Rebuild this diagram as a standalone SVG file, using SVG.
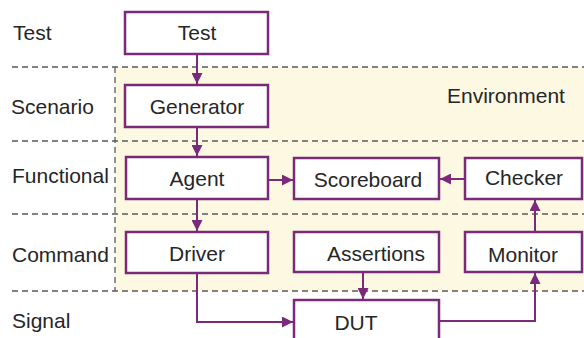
<svg xmlns="http://www.w3.org/2000/svg" width="584" height="338" viewBox="0 0 584 338">
<style>
.box{fill:#fff;stroke:#7a2a78;stroke-width:2.5}
.lbl{font-family:"Liberation Sans",Arial,sans-serif;font-size:21px;fill:#262626}
.ctr{text-anchor:middle}
.dash{stroke:#5a5a5a;stroke-width:1.3;stroke-dasharray:6 4;fill:none}
.con{stroke:#7a2a78;stroke-width:2;fill:none}
</style>
<defs>
<marker id="ah" viewBox="0 0 10 10" refX="10" refY="5" markerWidth="5.5" markerHeight="5.5" orient="auto" markerUnits="strokeWidth">
<path d="M0,0 L10,5 L0,10 z" fill="#7a2a78"/>
</marker>
</defs>
<rect x="0" y="0" width="584" height="338" fill="#fff"/>
<rect x="115" y="67" width="469" height="224" fill="#fcf8e1"/>
<g id="lanes">
<line class="dash" x1="12" y1="67" x2="584" y2="67"/>
<line class="dash" x1="12" y1="141" x2="584" y2="141"/>
<line class="dash" x1="12" y1="214" x2="584" y2="214"/>
<line class="dash" x1="12" y1="291" x2="584" y2="291"/>
<line class="dash" x1="115" y1="67" x2="115" y2="291"/>
<text class="lbl" x="13" y="40">Test</text>
<text class="lbl" x="11" y="114">Scenario</text>
<text class="lbl" x="12" y="183">Functional</text>
<text class="lbl" x="12" y="262">Command</text>
<text class="lbl" x="12" y="328">Signal</text>
<text class="lbl" x="447" y="103">Environment</text>
</g>
<g id="connectors">
<line class="con" x1="197" y1="54" x2="197" y2="84" marker-end="url(#ah)"/>
<line class="con" x1="197" y1="127" x2="197" y2="156" marker-end="url(#ah)"/>
<line class="con" x1="197" y1="199" x2="197" y2="231" marker-end="url(#ah)"/>
<line class="con" x1="268" y1="180" x2="293" y2="180" marker-end="url(#ah)"/>
<line class="con" x1="465" y1="179" x2="440" y2="179" marker-end="url(#ah)"/>
<line class="con" x1="535" y1="232" x2="535" y2="200" marker-end="url(#ah)"/>
<line class="con" x1="363" y1="272" x2="363" y2="299" marker-end="url(#ah)"/>
<polyline class="con" points="197,273 197,322 293,322" marker-end="url(#ah)"/>
<polyline class="con" points="439,321 535,321 535,273" marker-end="url(#ah)"/>
</g>
<g id="test"><rect class="box" x="125" y="12" width="143" height="42"/><text class="lbl ctr" x="197" y="40">Test</text></g>
<g id="generator"><rect class="box" x="125" y="85" width="143" height="42"/><text class="lbl ctr" x="197" y="114">Generator</text></g>
<g id="agent"><rect class="box" x="126" y="157" width="142" height="42"/><text class="lbl ctr" x="197" y="186">Agent</text></g>
<g id="driver"><rect class="box" x="126" y="232" width="142" height="41"/><text class="lbl ctr" x="197" y="261">Driver</text></g>
<g id="scoreboard"><rect class="box" x="294" y="158" width="145" height="41"/><text class="lbl ctr" x="368" y="187">Scoreboard</text></g>
<g id="checker"><rect class="box" x="465" y="158" width="117" height="41"/><text class="lbl ctr" x="524" y="185">Checker</text></g>
<g id="assertions"><rect class="box" x="294" y="232" width="145" height="40"/><text class="lbl ctr" x="376" y="261">Assertions</text></g>
<g id="monitor"><rect class="box" x="465" y="232" width="117" height="40"/><text class="lbl ctr" x="523" y="262">Monitor</text></g>
<g id="dut"><rect class="box" x="294" y="300" width="145" height="50"/><text class="lbl ctr" x="356" y="330">DUT</text></g>
</svg>
